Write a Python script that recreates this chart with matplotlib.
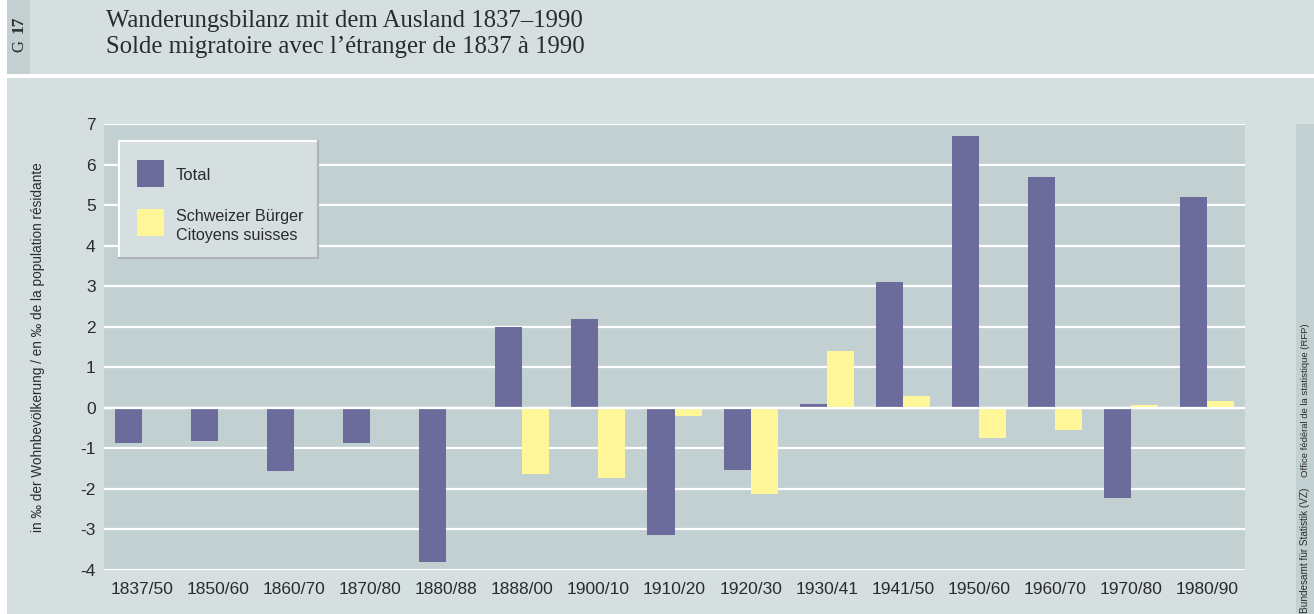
import numpy as np
import matplotlib
matplotlib.use("Agg")
import matplotlib.pyplot as plt
from matplotlib.patches import Rectangle
from matplotlib.lines import Line2D

categories = ["1837/50", "1850/60", "1860/70", "1870/80", "1880/88", "1888/00",
              "1900/10", "1910/20", "1920/30", "1930/41", "1941/50", "1950/60",
              "1960/70", "1970/80", "1980/90"]
total = [-0.88, -0.83, -1.57, -0.88, -3.81, 2.0, 2.2, -3.13, -1.53, 0.1,
         3.1, 6.7, 5.7, -2.22, 5.2]
swiss = [np.nan, np.nan, np.nan, np.nan, np.nan, -1.63, -1.73, -0.21, -2.12, 1.4,
         0.3, -0.74, -0.54, 0.08, 0.17]
yticks = [-4, -3, -2, -1, 0, 1, 2, 3, 4, 5, 6, 7]

title1 = "Wanderungsbilanz mit dem Ausland 1837–1990"
title2 = "Solde migratoire avec l’étranger de 1837 à 1990"
ylabel = "in ‰ der Wohnbevölkerung / en ‰ de la population résidante"
legend_total = "Total"
legend_swiss = "Schweizer Bürger\nCitoyens suisses"
source1 = "Bundesamt für Statistik (VZ)"
source2 = "Office fédéral de la statistique (RFP)"

SANS = "Liberation Sans"
SERIF = "Liberation Serif"

W, H = 1314, 614
fig = plt.figure(figsize=(W / 100, H / 100), dpi=100)
LIGHT = "#d5dfe0"
DARK = "#c2d0d1"
PURPLE = "#6c6c9c"
YELLOW = "#fff599"
TXT = "#2b2b2b"
fig.patch.set_facecolor(LIGHT)


def fx(px):
    return px / W


def fy(py):
    return (H - py) / H


def frect(x0, y0, x1, y1, color, z=0):
    fig.patches.append(Rectangle((fx(x0), fy(y1)), fx(x1) - fx(x0), fy(y0) - fy(y1),
                                 transform=fig.transFigure, facecolor=color,
                                 edgecolor="none", zorder=z))


# page decoration
frect(0, 0, 7, H, "white")
frect(7, 0, 30, 73.5, DARK)
frect(7, 73.5, W, 77.5, "white")
frect(1296, 124, W, H, DARK)

fig.text(fx(19), fy(46), "G", rotation=90, ha="center", va="center",
         family=SERIF, fontsize=12, color=TXT)
fig.text(fx(19), fy(24), "17", rotation=90, ha="center", va="center",
         family=SERIF, fontsize=12.5, fontweight="bold", color=TXT)
fig.text(fx(106), fy(21), title1, ha="left", va="center", family=SERIF,
         fontsize=17.8, color=TXT)
fig.text(fx(106), fy(47), title2, ha="left", va="center", family=SERIF,
         fontsize=17.8, color=TXT)

# axes
ax = fig.add_axes([fx(104), fy(570), fx(1245) - fx(104), fy(124) - fy(570)])
ax.set_facecolor(DARK)
x = np.arange(len(categories))
w = 0.355
ax.bar(x - w / 2, total, w, color=PURPLE, zorder=2)
ax.bar(x + w / 2, swiss, w, color=YELLOW, zorder=2)
ax.set_xlim(-0.5, len(categories) - 0.5)
ax.set_ylim(yticks[0], yticks[-1])
ax.set_yticks(yticks)
ax.set_yticklabels([str(t) for t in yticks], family=SANS, fontsize=12.5, color=TXT)
ax.set_xticks(x)
ax.set_xticklabels(categories, family=SANS, fontsize=12.5, color=TXT)
ax.tick_params(length=0)
ax.tick_params(axis="y", pad=6)
ax.tick_params(axis="x", pad=9)
for s in ax.spines.values():
    s.set_visible(False)
ax.yaxis.grid(True, color="white", lw=1.6, zorder=1)
ax.set_axisbelow(True)
ax.axhline(0, color="white", lw=1.6, zorder=3)


# legend (drawn manually)
def ax_x(px):
    return (px - 104) / 1141


def ax_y(py):
    return (570 - py) / 446


ax.add_patch(Rectangle((ax_x(119), ax_y(258)), ax_x(318) - ax_x(119), ax_y(141) - ax_y(258),
                       transform=ax.transAxes, facecolor=LIGHT, edgecolor="none", zorder=5))
ax.add_line(Line2D([ax_x(119), ax_x(119), ax_x(318)], [ax_y(258), ax_y(141), ax_y(141)],
                   transform=ax.transAxes, color="white", lw=1.5, zorder=6))
ax.add_line(Line2D([ax_x(119), ax_x(318), ax_x(318)], [ax_y(258), ax_y(258), ax_y(141)],
                   transform=ax.transAxes, color="#aeb3bd", lw=1.5, zorder=6))
ax.add_patch(Rectangle((ax_x(137), ax_y(187)), ax_x(164) - ax_x(137), ax_y(160) - ax_y(187),
                       transform=ax.transAxes, facecolor=PURPLE, edgecolor="none", zorder=7))
ax.add_patch(Rectangle((ax_x(137), ax_y(236)), ax_x(164) - ax_x(137), ax_y(209) - ax_y(236),
                       transform=ax.transAxes, facecolor=YELLOW, edgecolor="none", zorder=7))
ax.text(ax_x(176), ax_y(175), legend_total, transform=ax.transAxes, ha="left", va="center",
        family=SANS, fontsize=12, color=TXT, zorder=8)
ax.text(ax_x(176), ax_y(226), legend_swiss, transform=ax.transAxes, ha="left", va="center",
        family=SANS, fontsize=11.6, color=TXT, linespacing=1.3, zorder=8)

# y label and source
fig.text(fx(38), fy(347), ylabel, rotation=90, ha="center", va="center",
         family=SANS, fontsize=9.8, color=TXT)
fig.text(fx(1305), fy(613), source1, rotation=90, ha="center", va="bottom",
         family=SANS, fontsize=7.2, color=TXT)
fig.text(fx(1305), fy(477), source2, rotation=90, ha="center", va="bottom",
         family=SANS, fontsize=6.8, color=TXT)

fig.savefig("out.png", dpi=100, facecolor=fig.get_facecolor())
